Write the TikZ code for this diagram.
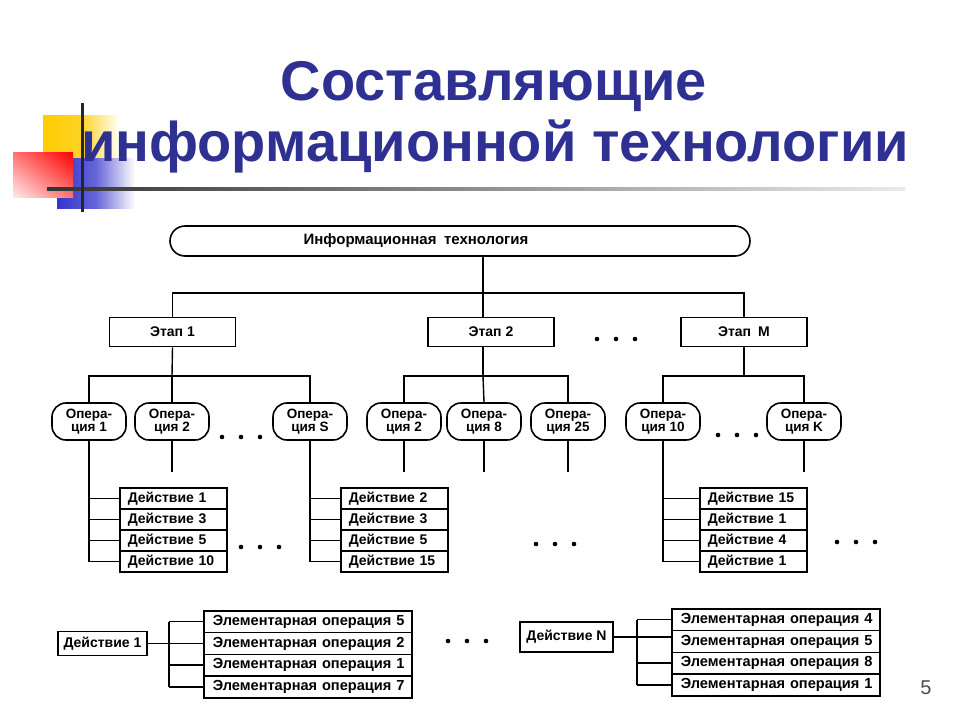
\documentclass[tikz,border=0pt]{standalone}
\usepackage{fontspec}
\setmainfont{Liberation Sans}
\usepackage{tikz}
\usetikzlibrary{calc,shadings}
\definecolor{ttl}{RGB}{46,49,146}
\definecolor{sqyellow}{RGB}{255,204,0}
\definecolor{sqred}{RGB}{255,0,0}
\definecolor{sqblue}{RGB}{51,51,204}

\begin{document}
\begin{tikzpicture}[x=1pt,y=-1pt,line width=1.4pt]
\useasboundingbox (0,0) rectangle (960,720);
\tikzset{
  ttlfont/.style={font=\bfseries\fontsize{56}{60}\selectfont,text=ttl,anchor=base,inner sep=0pt},
  topb/.style={draw,line width=1.6pt,rounded corners=15pt,minimum width=580pt,minimum height=30pt,
    inner sep=0pt,font=\bfseries\fontsize{15}{16}\selectfont},
  stg/.style={draw,line width=1.6pt,minimum width=126pt,minimum height=29pt,inner sep=0pt,
    font=\bfseries\fontsize{14}{15}\selectfont},
  op/.style={draw,line width=1.6pt,rounded corners=14pt,minimum width=74pt,minimum height=37pt,
    inner sep=0pt,align=center,font=\bfseries\fontsize{13.5}{13.5}\selectfont},
  act/.style={draw,line width=1.6pt,anchor=north west,minimum height=21pt,text width=91pt,
    inner xsep=8pt,inner ysep=0pt,align=left,font=\bfseries\fontsize{14}{15}\selectfont},
  elem/.style={act,minimum height=21.75pt,text width=196pt,inner xsep=6pt,
    font=\bfseries\fontsize{14.6}{15}\selectfont},
  dbox/.style={draw,line width=1.6pt,inner sep=0pt,font=\bfseries\fontsize{14}{15}\selectfont}
}
\newcommand\threedots[2]{
  \foreach \d in {0,19,38} \fill (#1+\d,#2) circle (2.3pt);
}
\newcommand\opn[3]{
  \node[op] (#1) at (#2,421.5) {Опера-\\ция #3};
}
\newcommand\acts[3]{
  \foreach \t [count=\i] in {#3}
    \node[act] (#1-\i) at (#2,{487+21*(\i-1)}) {\t};
}
\newcommand\elems[4]{
  \foreach \t [count=\i] in {#4}
    \node[elem] (#1-\i) at (#2,{#3+21.75*(\i-1)}) {\hspace*{3pt}Элементарная операция \t};
}

\shade[left color=sqyellow,right color=white,middle color=sqyellow!85!white] (43,115) rectangle (120,165);
\shade[left color=sqblue,right color=white,middle color=sqblue!75!white] (57,158) rectangle (135,208);
\shade[upper right=sqred,upper left=sqred!55!white,lower right=sqred!55!white,lower left=sqred!8!white]
  (13,152) rectangle (73,197);
\shade[left color=black!80,right color=black!8] (47,187.5) rectangle (905,190.5);
\fill[black!85] (80.5,103) rectangle (83.5,212);

\node[ttlfont] (t1) at (494,100) {Составляющие};
\node[ttlfont] (t2) at (495,161) {информационной технологии};

\node[topb] (it) at (460,241) {\hspace*{-88pt}Информационная\enspace технология};

\node[stg] (st1) at (172.5,332) {Этап 1};
\node[stg] (st2) at (491,332) {Этап 2};
\node[stg] (stM) at (744,332) {Этап\enspace M};
\threedots{597}{339}

\coordinate (j0) at (483,293);
\draw (it.south -| j0) -- (j0);
\draw (st1.north) -- (st1.north |- j0) -- (stM.north |- j0) -- (stM.north);
\draw (j0) -- (j0 |- st2.north);

\opn{op1}{89}{1}
\opn{op2}{172}{2}
\opn{opS}{310}{S}
\opn{opb2}{404}{2}
\opn{op8}{484}{8}
\opn{op25}{568}{25}
\opn{op10}{663}{10}
\opn{opK}{804}{K}
\threedots{222}{437}
\threedots{718}{435}

\coordinate (b1) at (172,376);
\coordinate (b2) at (483,376);
\coordinate (bM) at (744,376);
\draw (st1.south) -- (b1);
\draw (op1.north) -- (op1.north |- b1) -- (opS.north |- b1) -- (opS.north);
\draw (b1) -- (op2.north);
\draw (j0 |- st2.south) -- (b2);
\draw (opb2.north) -- (opb2.north |- b2) -- (op25.north |- b2) -- (op25.north);
\draw (b2) -- (op8.north);
\draw (stM.south) -- (bM);
\draw (op10.north) -- (op10.north |- bM) -- (opK.north |- bM) -- (opK.north);

\foreach \o in {op2,opb2,op8,op25,opK}
  \draw (\o.south) -- ++(0,31);

\acts{g1}{119}{Действие 1,Действие 3,Действие 5,Действие 10}
\acts{g2}{340}{Действие 2,Действие 3,Действие 5,Действие 15}
\acts{g3}{699}{Действие 15,Действие 1,Действие 4,Действие 1}
\foreach \g/\o in {g1/op1,g2/opS,g3/op10} {
  \draw (\o.south) |- (\g-4.west);
  \foreach \i in {1,2,3}
    \draw (\g-\i.west) -- (\g-\i.west -| \o.south);
}
\threedots{241}{547}
\threedots{536}{544}
\threedots{837}{542}

\node[dbox,minimum width=89pt,minimum height=24pt] (d1) at (102.5,643.5) {Действие 1};
\elems{e1}{203}{610}{5,2,1,7}
\node[dbox,minimum width=93pt,minimum height=30pt] (dN) at (566.5,637) {Действие N};
\elems{eN}{671}{608}{4,5,8,1}
\threedots{448}{641}

\coordinate (k1) at (169,0);
\coordinate (kN) at (637,0);
\draw (d1.east) -- (d1.east -| e1-2.west);
\draw (dN.east) -- (dN.east -| eN-2.west);
\foreach \e/\k in {e1/k1,eN/kN} {
  \draw (\e-1.west -| \k) -- (\e-4.west -| \k);
  \foreach \i in {1,3,4}
    \draw (\e-\i.west) -- (\e-\i.west -| \k);
}

\node[text=black!70,font=\fontsize{20}{20}\selectfont] (pg) at (926,688) {5};
\end{tikzpicture}
\end{document}
